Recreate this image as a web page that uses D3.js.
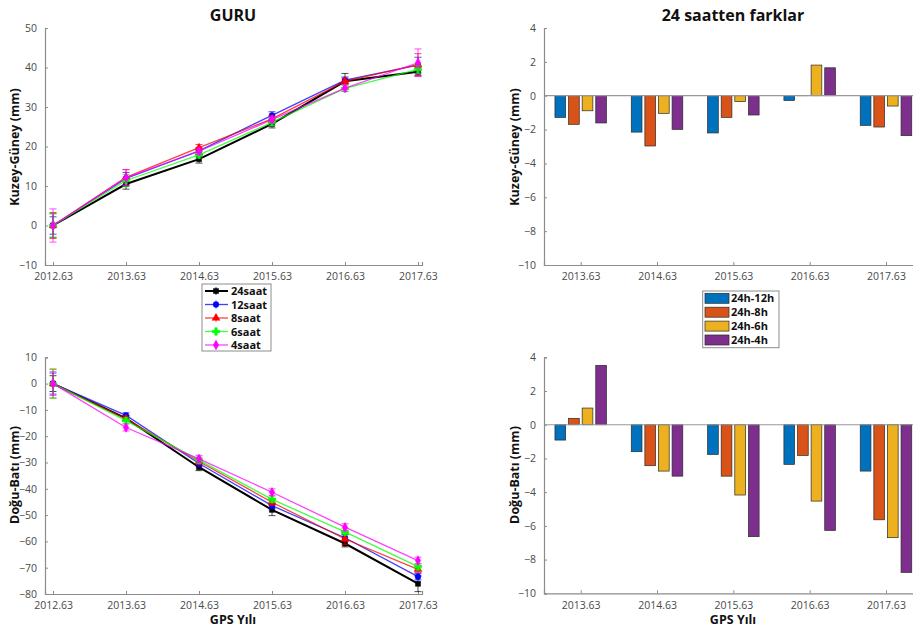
<!DOCTYPE html>
<html><head><meta charset="utf-8">
<script src="https://cdn.jsdelivr.net/npm/d3@7"></script>
<style>
body{margin:0;background:#fff;}
svg{display:block;}
text{font-family:"Open Sans",sans-serif;}
</style></head>
<body><svg id="c" width="913" height="632"></svg>
<script>
// ---------- data ----------
const years = [2012.63, 2013.63, 2014.63, 2015.63, 2016.63, 2017.63];
const diffYears = [2013.63, 2014.63, 2015.63, 2016.63, 2017.63];
const xTickLabels = ["2012.63","2013.63","2014.63","2015.63","2016.63","2017.63"];
const seriesNames = ["24saat","12saat","8saat","6saat","4saat"];
const diffNames = ["24h-12h","24h-8h","24h-6h","24h-4h"];

// Kuzey-Güney (mm)
const ns24 = [0, 10.5, 16.8, 25.7, 36.5, 38.9];
const ns12 = [0, 11.9, 18.9, 27.9, 36.8, 40.6];
const ns8  = [0, 12.2, 19.7, 27.0, 36.5, 40.7];
const ns6  = [0, 11.4, 17.9, 26.1, 34.7, 39.5];
const ns4  = [0, 12.1, 18.8, 26.8, 34.8, 41.2];
const nsErr24 = [3.0, 1.3, 1.0, 1.0, 2.0, 1.0];
const nsErr12 = [2.2, 1.5, 0.8, 0.9, 0.8, 2.0];
const nsErr8  = [3.3, 2.0, 0.8, 0.8, 0.8, 2.8];
const nsErr6  = [3.0, 1.5, 0.8, 0.8, 0.8, 1.0];
const nsErr4  = [4.2, 2.0, 0.8, 0.8, 0.8, 3.5];

// Doğu-Batı (mm)
const ew24 = [0, -13.2, -31.8, -48.0, -60.8, -76.1];
const ew12 = [0, -12.1, -30.4, -46.4, -58.6, -73.4];
const ew8  = [0, -13.4, -29.6, -45.1, -59.1, -70.6];
const ew6  = [0, -14.1, -29.1, -44.0, -56.4, -69.6];
const ew4  = [0, -16.7, -28.6, -41.3, -54.6, -67.3];
const ewErr24 = [3.0, 1.0, 1.3, 2.2, 1.3, 3.0];
const ewErr12 = [4.0, 1.0, 1.2, 1.2, 1.2, 1.2];
const ewErr8  = [5.5, 1.0, 1.2, 1.2, 2.0, 1.2];
const ewErr6  = [5.5, 1.0, 1.2, 1.2, 1.2, 1.2];
const ewErr4  = [4.5, 1.3, 1.3, 1.3, 1.3, 1.3];

// differences from 24h (mm)
const nsD12 = [-1.28, -2.15, -2.20, -0.28, -1.75];
const nsD8  = [-1.69, -2.97, -1.28, 0.02, -1.85];
const nsD6  = [-0.89, -1.04, -0.35, 1.81, -0.61];
const nsD4  = [-1.61, -1.99, -1.14, 1.65, -2.36];
const ewD12 = [-0.91, -1.60, -1.76, -2.35, -2.75];
const ewD8  = [0.38, -2.43, -3.05, -1.82, -5.64];
const ewD6  = [0.99, -2.75, -4.17, -4.53, -6.70];
const ewD4  = [3.52, -3.05, -6.64, -6.27, -8.76];

const nsTicks = [-10,0,10,20,30,40,50];
const ewTicks = [-80,-70,-60,-50,-40,-30,-20,-10,0,10];
const diffTicks = [-10,-8,-6,-4,-2,0,2,4];

// ---------- styles ----------
const lineColors = ["#000000","#0000ff","#ff0000","#00ff00","#ff00ff"];
const markers = [d3.symbolSquare, d3.symbolCircle, d3.symbolTriangle, d3.symbolCross, d3.symbolDiamond];
const barColors = ["#0072BD","#D95319","#EDB120","#7E2F8E"];
const axisCol = "#8c8c8c", tickTextCol = "#4a4a4a";

const svg = d3.select("#c");

function yAxis(g, y, ticks, x0){
  const a = g.append("g").attr("transform",`translate(${x0},0)`)
    .call(d3.axisLeft(y).tickValues(ticks).tickSize(-3).tickPadding(8).tickFormat(d3.format("d")));
  a.select(".domain").attr("stroke",axisCol).attr("stroke-width",1.2);
  a.selectAll(".tick line").attr("stroke",axisCol);
  a.selectAll("text").attr("fill",tickTextCol).style("font-size","10.5px").style("font-family","Open Sans");
}
function xAxis(g, x, ticks, labels, y0){
  const a = g.append("g").attr("transform",`translate(0,${y0})`)
    .call(d3.axisBottom(x).tickValues(ticks).tickSize(-3).tickPadding(8).tickFormat((d,i)=>labels[i]));
  a.select(".domain").attr("stroke",axisCol).attr("stroke-width",1.2);
  a.selectAll(".tick line").attr("stroke",axisCol);
  a.selectAll("text").attr("fill",tickTextCol).style("font-size","10.5px").style("font-family","Open Sans");
}
function yLabel(txt, x, y){
  svg.append("text").attr("transform",`translate(${x},${y}) rotate(-90)`)
    .attr("text-anchor","middle").attr("font-weight","bold").attr("font-size","12.5px").attr("fill","#111").text(txt);
}
function title(txt, x, y){
  svg.append("text").attr("x",x).attr("y",y).attr("text-anchor","middle")
    .attr("font-weight","bold").attr("font-size","16px").attr("fill","#111").text(txt);
}

// ---------- line panels ----------
function linePanel(top, bottom, ydom, ticks, data, errs){
  const x = d3.scaleLinear().domain([2012.52, 2017.685]).range([45, 422]);
  const y = d3.scaleLinear().domain(ydom).range([bottom, top]);
  const g = svg.append("g");
  yAxis(g, y, ticks, 45);
  xAxis(g, x, years, xTickLabels, bottom);
  data.forEach((vals, s) => {
    const col = lineColors[s];
    const gs = g.append("g");
    gs.append("path").datum(vals)
      .attr("d", d3.line().x((d,i)=>x(years[i])).y(d=>y(d)))
      .attr("fill","none").attr("stroke",col).attr("stroke-width", s===0?2:1.3)
      .attr("stroke-opacity", s===0?1:0.75);
    vals.forEach((v,i)=>{
      const e = errs[s][i], cx = x(years[i]);
      gs.append("line").attr("x1",cx).attr("x2",cx).attr("y1",y(v-e)).attr("y2",y(v+e))
        .attr("stroke",col).attr("stroke-width",1).attr("stroke-opacity",0.7);
      [v-e, v+e].forEach(w=>gs.append("line").attr("x1",cx-3.5).attr("x2",cx+3.5)
        .attr("y1",y(w)).attr("y2",y(w)).attr("stroke",col).attr("stroke-width",1).attr("stroke-opacity",0.7));
      gs.append("path").attr("transform",`translate(${cx},${y(v)})`)
        .attr("d", d3.symbol().type(markers[s]).size(s===3?30:26)())
        .attr("fill",col).attr("stroke",col).attr("stroke-width",0.5);
    });
  });
}
linePanel(28, 265, [-10,50], nsTicks, [ns24,ns12,ns8,ns6,ns4], [nsErr24,nsErr12,nsErr8,nsErr6,nsErr4]);
linePanel(357.3, 594, [-80,10], ewTicks, [ew24,ew12,ew8,ew6,ew4], [ewErr24,ewErr12,ewErr8,ewErr6,ewErr4]);

// ---------- bar panels ----------
function barPanel(top, bottom, data){
  const x = d3.scaleLinear().domain([2013.149, 2018.111]).range([544, 922.7]);
  const y = d3.scaleLinear().domain([-10,4]).range([bottom, top]);
  const g = svg.append("g");
  const gw = (x(1)-x(0))*0.675;
  const sub = d3.scaleBand().domain(d3.range(4)).range([-gw/2, gw/2]).paddingInner(0.213);
  data.forEach((vals, s)=>{
    g.selectAll(null).data(vals).join("rect")
      .attr("x",(d,i)=>x(diffYears[i])+sub(s))
      .attr("width",sub.bandwidth())
      .attr("y",d=>Math.min(y(d),y(0)))
      .attr("height",d=>Math.abs(y(d)-y(0)))
      .attr("fill",barColors[s]).attr("stroke","#2a2a2a").attr("stroke-width",0.7);
  });
  g.append("line").attr("x1",544).attr("x2",913).attr("y1",y(0)).attr("y2",y(0))
    .attr("stroke","#999").attr("stroke-width",1.2);
  yAxis(g, y, diffTicks, 544);
  xAxis(g, x, diffYears, xTickLabels.slice(1), bottom);
}
barPanel(28, 265, [nsD12,nsD8,nsD6,nsD4]);
barPanel(357.3, 593.3, [ewD12,ewD8,ewD6,ewD4]);

// ---------- text ----------
title("GURU", 233, 21);
title("24 saatten farklar", 733, 21);
yLabel("Kuzey-Güney (mm)", 19, 147);
yLabel("Kuzey-Güney (mm)", 519, 147);
yLabel("Doğu-Batı (mm)", 19, 475);
yLabel("Doğu-Batı (mm)", 519, 475);
svg.append("text").attr("x",233).attr("y",624).attr("text-anchor","middle").attr("font-weight","bold").attr("font-size","12.5px").attr("fill","#111").text("GPS Yılı");
svg.append("text").attr("x",733).attr("y",624).attr("text-anchor","middle").attr("font-weight","bold").attr("font-size","12.5px").attr("fill","#111").text("GPS Yılı");

// ---------- legends ----------
const lg = svg.append("g");
lg.append("rect").attr("x",202).attr("y",284).attr("width",69).attr("height",67)
  .attr("fill","#fff").attr("stroke","#8c8c8c").attr("stroke-width",1);
seriesNames.forEach((n,s)=>{
  const yy = 291 + s*13.5, col = lineColors[s];
  lg.append("line").attr("x1",205).attr("x2",228).attr("y1",yy).attr("y2",yy)
    .attr("stroke",col).attr("stroke-width",s===0?2:1.3).attr("stroke-opacity",s===0?1:0.75);
  lg.append("line").attr("x1",216).attr("x2",216).attr("y1",yy-4).attr("y2",yy+4).attr("stroke",col).attr("stroke-opacity",0.7);
  lg.append("path").attr("transform",`translate(216,${yy})`)
    .attr("d", d3.symbol().type(markers[s]).size(s===3?30:26)()).attr("fill",col).attr("stroke",col).attr("stroke-width",0.5);
  lg.append("text").attr("x",231).attr("y",yy+4).attr("font-weight","bold").attr("font-size","11px").attr("fill","#111").text(n);
});
const rg = svg.append("g");
rg.append("rect").attr("x",702.7).attr("y",291).attr("width",76.3).attr("height",56.7)
  .attr("fill","#fff").attr("stroke","#8c8c8c").attr("stroke-width",1);
diffNames.forEach((n,s)=>{
  const yy = 298.3 + s*13.9;
  rg.append("rect").attr("x",705).attr("y",yy-5).attr("width",24).attr("height",10)
    .attr("fill",barColors[s]).attr("stroke","#2a2a2a").attr("stroke-width",0.7);
  rg.append("text").attr("x",731).attr("y",yy+4).attr("font-weight","bold").attr("font-size","11px").attr("fill","#111").text(n);
});
</script></body></html>
